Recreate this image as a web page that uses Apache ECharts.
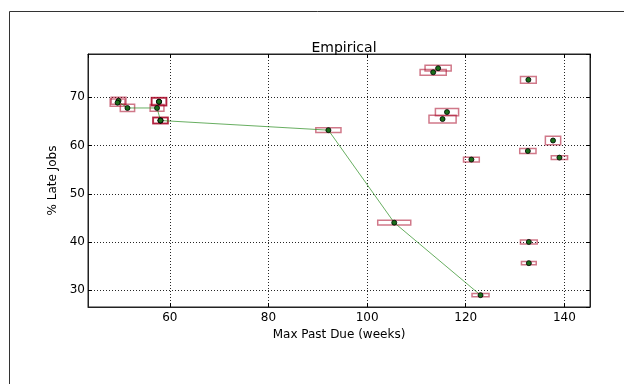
<!DOCTYPE html>
<html><head><meta charset="utf-8">
<script src="https://cdn.jsdelivr.net/npm/echarts@6/dist/echarts.min.js"></script>
<style>html,body{margin:0;padding:0;background:#fff}#c{width:624px;height:384px}</style>
</head><body><div id="c"></div>
<script>
// Empirical points (x = Max Past Due weeks, y = % Late Jobs)
const pointX = [49.6, 49.4, 51.4, 57.4, 57.8, 57.8, 57.8, 58.1, 58.1, 58.1, 92.15, 114.4, 113.4, 132.7, 116.2, 115.3, 137.7, 132.6, 139.0, 121.15, 105.5, 132.8, 132.8, 123.0];
const pointY = [69.3, 68.9, 67.8, 67.8, 69.1, 69.1, 69.1, 65.2, 65.2, 65.2, 63.2, 76.05, 75.2, 73.65, 66.95, 65.5, 61.05, 58.87, 57.5, 57.1, 44.0, 40.0, 35.6, 28.96];
// uncertainty box sizes (data units)
const boxW = [3.0, 3.0, 2.9, 2.8, 3.0, 3.1, 2.9, 3.0, 3.1, 2.9, 5.1, 5.3, 5.3, 3.2, 4.7, 5.5, 3.1, 3.3, 3.3, 3.2, 6.7, 3.4, 3.0, 3.45];
const boxH = [1.5, 1.5, 1.5, 1.4, 1.6, 1.7, 1.5, 1.2, 1.3, 1.1, 1.0, 1.2, 1.2, 1.4, 1.5, 1.6, 1.8, 1.0, 0.75, 1.0, 1.0, 0.85, 0.7, 0.7];
// Pareto front line
const frontX = [49.6, 51.4, 57.4, 58.1, 92.15, 105.5, 123.0];
const frontY = [69.1, 67.8, 67.8, 65.2, 63.2, 44.0, 28.96];

const X_MIN = 43.4, X_MAX = 145.2, Y_MIN = 26.5, Y_MAX = 79.0;

const boxData = pointX.map((x, i) => [x, pointY[i], boxW[i], boxH[i]]);
const dotData = pointX.map((x, i) => [x, pointY[i]]);
const lineData = frontX.map((x, i) => [x, frontY[i]]);

const FONT = 'DejaVu Sans';
const chart = echarts.init(document.getElementById('c'), null, {renderer: 'canvas'});

const baseAxis = {
  scale: true,
  splitNumber: 5,
  axisLine: {show: true, onZero: false, lineStyle: {color: '#222', width: 1}},
  axisTick: {show: true, inside: true, length: 4, lineStyle: {color: '#000', width: 1}},
  axisLabel: {show: true, showMinLabel: false, showMaxLabel: false, color: '#000', fontFamily: FONT, fontSize: 12},
  splitLine: {show: false}
};

chart.setOption({
  animation: false,
  backgroundColor: '#fff',
  title: {
    text: 'Empirical', left: 339, top: 36, textAlign: 'center',
    textStyle: {fontFamily: FONT, fontSize: 14, fontWeight: 'normal', color: '#000'}
  },
  graphic: [{
    type: 'rect', left: 7, top: 9, silent: true,
    shape: {width: 700, height: 500},
    style: {fill: 'none', stroke: '#333', lineWidth: 1}
  }],
  grid: {left: 88, right: 34, top: 54, bottom: 77, show: true, borderColor: '#222', borderWidth: 1, backgroundColor: 'transparent'},
  xAxis: [
    Object.assign({}, baseAxis, {
      type: 'value', position: 'bottom', min: X_MIN, max: X_MAX,
      name: 'Max Past Due (weeks)', nameLocation: 'middle', nameGap: 18,
      nameTextStyle: {fontFamily: FONT, fontSize: 12, color: '#000'},
      axisLabel: Object.assign({}, baseAxis.axisLabel, {margin: 5}),
      splitLine: {show: true, lineStyle: {color: '#000', width: 1, type: [1, 2], opacity: 0.85}}
    }),
    Object.assign({}, baseAxis, {
      type: 'value', position: 'top', min: X_MIN, max: X_MAX,
      axisLabel: {show: false}
    })
  ],
  yAxis: [
    Object.assign({}, baseAxis, {
      type: 'value', position: 'left', min: Y_MIN, max: Y_MAX,
      name: '% Late Jobs', nameLocation: 'middle', nameGap: 22, nameRotate: 90,
      nameTextStyle: {fontFamily: FONT, fontSize: 12, color: '#000'},
      axisLabel: Object.assign({}, baseAxis.axisLabel, {margin: 3}),
      splitLine: {show: true, lineStyle: {color: '#000', width: 1, type: [1, 2], opacity: 0.85}}
    }),
    Object.assign({}, baseAxis, {
      type: 'value', position: 'right', min: Y_MIN, max: Y_MAX,
      axisLabel: {show: false}
    })
  ],
  series: [
    {
      type: 'custom', xAxisIndex: 0, yAxisIndex: 0, z: 2, silent: true,
      data: boxData,
      renderItem: function (params, api) {
        const x = api.value(0), y = api.value(1), w = api.value(2), h = api.value(3);
        const p0 = api.coord([x - w / 2, y + h / 2]);
        const p1 = api.coord([x + w / 2, y - h / 2]);
        return {
          type: 'rect',
          shape: {x: p0[0], y: p0[1], width: p1[0] - p0[0], height: p1[1] - p0[1]},
          style: {fill: 'none', stroke: 'rgba(170,10,40,0.55)', lineWidth: 1.5}
        };
      }
    },
    {
      type: 'line', xAxisIndex: 0, yAxisIndex: 0, z: 3, silent: true,
      data: lineData, showSymbol: false, symbol: 'none',
      lineStyle: {color: 'rgba(40,140,30,0.7)', width: 1}
    },
    {
      type: 'scatter', xAxisIndex: 0, yAxisIndex: 0, z: 4, silent: true,
      data: dotData, symbol: 'circle', symbolSize: 5,
      itemStyle: {color: '#1a6e1a', borderColor: '#000', borderWidth: 0.8, opacity: 1}
    }
  ]
});
</script>
</body></html>
